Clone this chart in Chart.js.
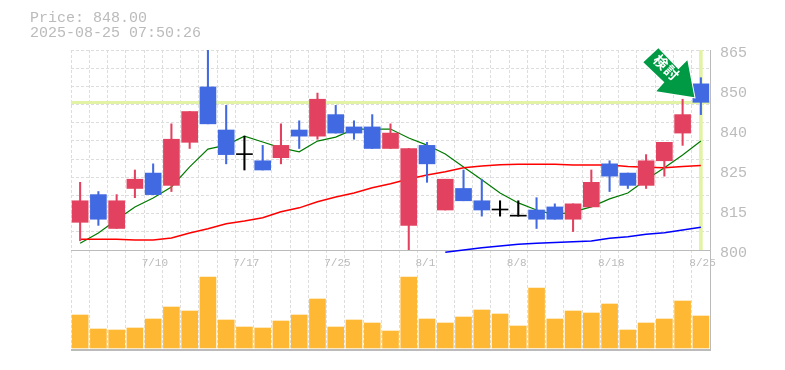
<!DOCTYPE html>
<html>
<head>
<meta charset="utf-8">
<style>
html,body{margin:0;padding:0;background:#fff;width:785px;height:370px;overflow:hidden}
#head{position:absolute;left:30px;top:11px;font:15px/15px 'Liberation Mono',monospace;color:#bbb;white-space:pre}
canvas{position:absolute;left:0;top:0}
</style>
<script src="https://cdn.jsdelivr.net/npm/chart.js@4"></script>
</head>
<body>
<canvas id="c" width="785" height="370"></canvas>
<div id="head">Price: 848.00
2025-08-25 07:50:26</div>
<script>
const dates = ['7/4','7/7','7/8','7/9','7/10','7/11','7/14','7/15','7/16','7/17','7/18','7/22','7/23','7/24','7/25','7/28','7/29','7/30','7/31','8/1','8/4','8/5','8/6','8/7','8/8','8/12','8/13','8/14','8/15','8/18','8/19','8/20','8/21','8/22','8/25'];
const shownDates = ['7/10','7/17','7/25','8/1','8/8','8/18','8/25'];
const opens  = [809,818,807,820,825,821,835,853,839,831,829,830,839,837,844,840,840,833,808,834,813,820,816,813,811,813,814,810,814,828,825,821,829,838,854];
const closes = [816,810,816,823,818,836,845,841,831,831,826,834,837,849,838,838,833,838,833,828,823,816,813,813,811,810,810,815,822,824,821,829,835,844,848];
const highs  = [822,819,818,826,828,841,845,865,847,837,834,841,842,851,847,842,844,841,833,835,823,826,823,816,816,817,815,815,826,829,825,831,835,849,856];
const lows   = [803,808,807,817,818,819,833,841,828,826,826,828,833,836,838,836,833,833,800,822,813,816,811,811,811,807,810,806,814,819,820,820,824,834,844];
const maShort = [802.2,805.5,809.8,814,816.9,820.5,827,832.8,834.1,837,835.1,833.2,831.9,835.4,836.7,839.3,839.3,839.3,836.4,834.1,831.2,827,822.8,818.5,815.3,813,811.4,812.4,814,816.6,818.5,822.8,826.7,830.9,835.4];
const maMid = [803.5,803.5,803.5,803.25,803.25,803.9,805.5,806.9,808.5,809.4,810.5,812.4,813.7,815.7,817.2,818.5,820.2,821.5,823.1,824.4,825.4,826.7,827.3,827.7,827.9,827.9,827.9,827.6,827.6,827.6,827.1,826.9,826.7,827.1,827.5];
const maLong = [null,null,null,null,null,null,null,null,null,null,null,null,null,null,null,null,null,null,null,null,799.25,800,800.75,801.3,801.9,802.2,802.4,802.7,802.9,803.8,804.3,805.1,805.6,806.5,807.4];
const volumes = [33,19,18,20,29,41,37,71,28,21,20,27,33,49,21,28,25,17,71,29,25,31,38,34,22,60,29,37,35,44,18,25,29,47,32];
const currentPrice = 848;
const priceMin = 800, priceMax = 865;
const priceTickValues = [800,813,826,839,852,865];
const priceTickLabels = ['800','815','825','840','850','865'];
const gridDivisions = 11;
const arrowLabel = ['検','討'];

const RED='#e2425f', BLUE='#4169e1', BLACK='#000000', GREY='#bbbbbb', GRID='#dddddd', LIME='#e2f3a6', ORANGE='#ffb833', GREEN='#009944';
const candleColor = opens.map((o,i)=> closes[i]>o ? RED : closes[i]<o ? BLUE : BLACK);
const gridValues = Array.from({length:gridDivisions+1},(_,i)=>priceMin+i*(priceMax-priceMin)/gridDivisions);
const isGridValue = v => gridValues.some(g=>Math.abs(g-v)<1e-6);

const arrowPlugin = {
  id:'arrow',
  afterDatasetsDraw(chart){
    const {ctx,scales} = chart;
    const tx = scales.x.getPixelForValue(dates.length-1)-6.5;
    const ty = scales.y.getPixelForValue(currentPrice)-5;
    const pts = [[0,0],[-7,-37],[-16,-28],[-36,-49],[-51,-35],[-30,-15],[-38,-6]];
    ctx.save();
    ctx.beginPath();
    pts.forEach((p,i)=> i? ctx.lineTo(tx+p[0],ty+p[1]) : ctx.moveTo(tx+p[0],ty+p[1]));
    ctx.closePath();
    ctx.lineJoin='miter';
    ctx.strokeStyle='#ffffff'; ctx.lineWidth=2; ctx.stroke();
    ctx.fillStyle=GREEN; ctx.fill();
    ctx.translate(tx-28,ty-30);
    ctx.rotate(Math.PI/4);
    ctx.fillStyle='#ffffff';
    ctx.font='bold 14px "Noto Sans CJK JP"';
    ctx.textAlign='center'; ctx.textBaseline='middle';
    ctx.fillText(arrowLabel[0],-7.5,0);
    ctx.fillText(arrowLabel[1],7.5,0);
    ctx.restore();
  }
};

new Chart(document.getElementById('c'),{
  type:'bar',
  data:{
    labels:dates,
    datasets:[
      {type:'line',data:maLong,yAxisID:'y',borderColor:'#0000ff',borderWidth:1.5,pointRadius:0,tension:0,clip:false,order:5},
      {type:'line',data:maMid,yAxisID:'y',borderColor:'#ff0000',borderWidth:1.5,pointRadius:0,tension:0,order:5},
      {type:'line',data:maShort,yAxisID:'y',borderColor:'#007a00',borderWidth:1.2,pointRadius:0,tension:0,order:5},
      {data:dates.map((d,i)=> i===dates.length-1 ? [priceMin,priceMax] : null),yAxisID:'y',backgroundColor:LIME,barThickness:3,grouped:false,order:6},
      {data:lows.map((l,i)=>[l,highs[i]]),yAxisID:'y',backgroundColor:candleColor,barThickness:1.4,grouped:false,order:2},
      {data:opens.map((o,i)=>[o,closes[i]]),yAxisID:'y',backgroundColor:candleColor,barThickness:16,minBarLength:1,grouped:false,order:1},
      {data:volumes,yAxisID:'yVol',backgroundColor:ORANGE,barThickness:16,grouped:false,order:1}
    ]
  },
  options:{
    responsive:false,
    animation:false,
    layout:{padding:{left:71,top:50,right:0,bottom:20}},
    plugins:{legend:{display:false},tooltip:{enabled:false},title:{display:false}},
    scales:{
      x:{
        position:{y:priceMin},
        offset:true,
        grid:{offset:true,color:GRID,lineWidth:1,drawTicks:false},
        border:{color:GREY,width:1,dash:[3,2]},
        ticks:{
          autoSkip:false,maxRotation:0,minRotation:0,padding:6,align:'start',labelOffset:-11.5,color:GREY,
          font:{family:"'Liberation Mono',monospace",size:11},
          callback(v){const d=dates[v];return shownDates.includes(d)?d:'';}
        }
      },
      y:{
        position:'right',stack:'panels',stackWeight:200,
        min:priceMin,max:priceMax,
        afterFit(s){s.width=75;},
        afterBuildTicks(s){
          const vals=[...new Set([...gridValues,...priceTickValues,currentPrice])].sort((a,b)=>a-b);
          s.ticks=vals.map(value=>({value}));
        },
        grid:{
          drawTicks:false,
          color(c){if(!c.tick)return GRID;const v=c.tick.value;return v===currentPrice?LIME:isGridValue(v)?GRID:'transparent';},
          lineWidth(c){return c.tick&&c.tick.value===currentPrice?3:1;}
        },
        border:{color:GREY,width:1,dash(c){return c.tick&&c.tick.value===currentPrice?[]:[3,2];}},
        ticks:{
          autoSkip:false,padding:10,color:GREY,align:'center',
          font:{family:"'Liberation Mono',monospace",size:15,lineHeight:'6px'},
          callback(v){const i=priceTickValues.indexOf(v);return i<0?'':['',priceTickLabels[i]];}
        }
      },
      yVol:{
        position:'right',stack:'panels',stackWeight:100,
        min:-2,max:98,
        afterFit(s){s.width=75;},
        afterBuildTicks(s){s.ticks=[{value:-2}];},
        grid:{drawTicks:false,color:GREY,lineWidth:2},
        border:{color:GREY,width:1},
        ticks:{display:false}
      }
    }
  },
  plugins:[arrowPlugin]
});
</script>
</body>
</html>
